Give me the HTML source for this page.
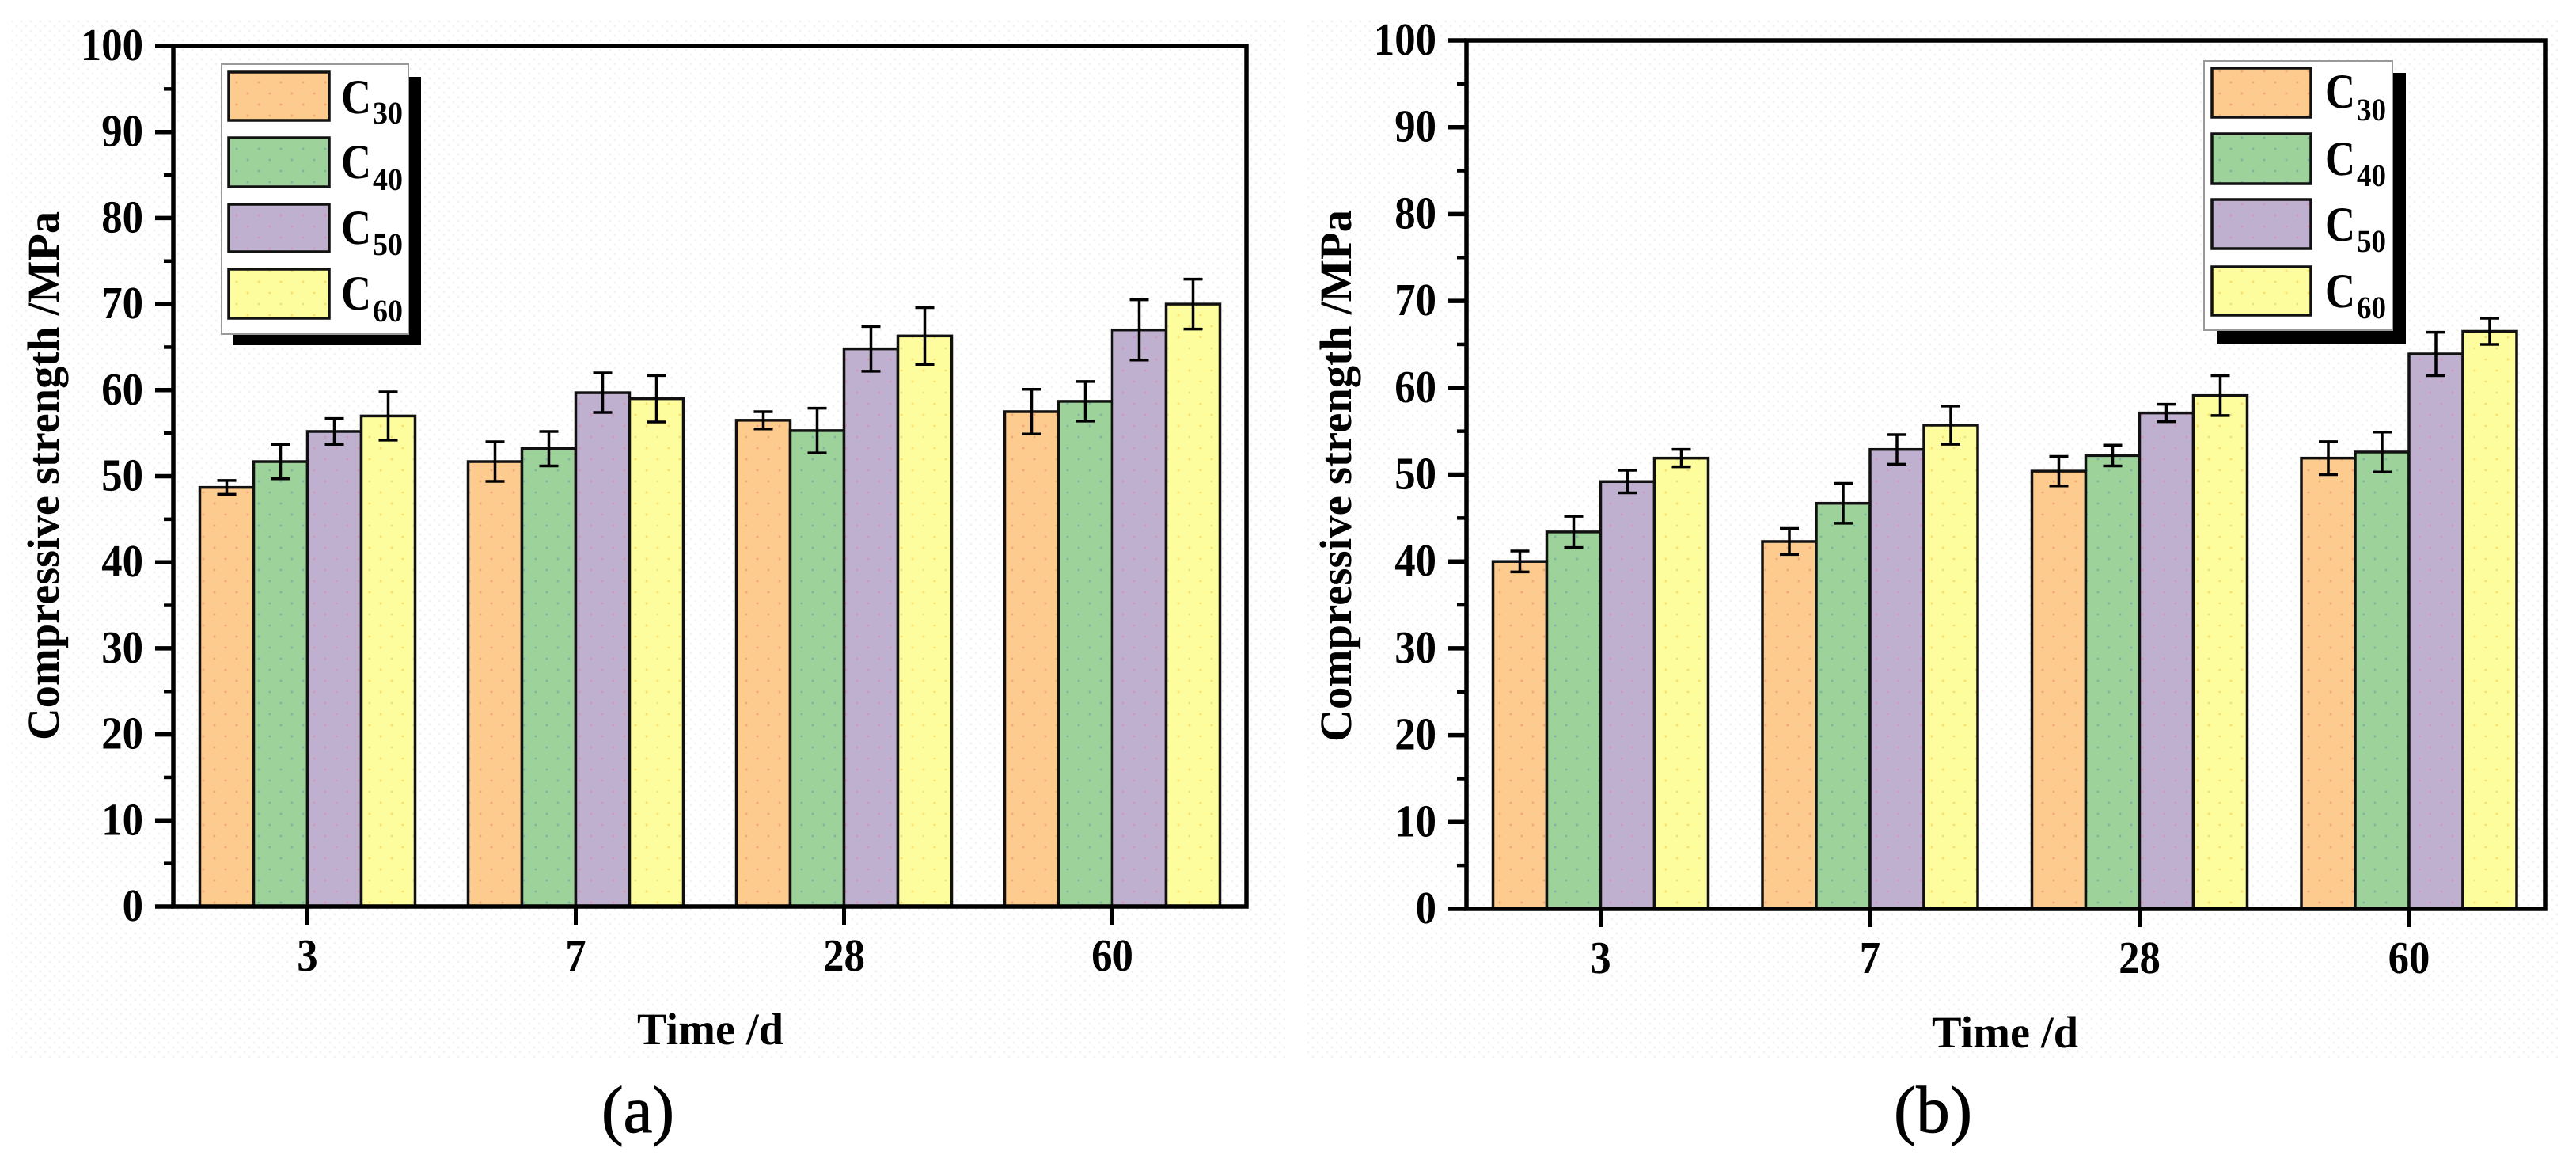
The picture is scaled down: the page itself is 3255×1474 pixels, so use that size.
<!DOCTYPE html>
<html lang="en">
<head>
<meta charset="utf-8">
<title>Compressive strength charts</title>
<style>
  html, body { margin: 0; padding: 0; background: #fff; }
  svg { display: block; font-family: "Liberation Serif", serif; }
  text { fill: #000; text-rendering: geometricPrecision; }
  .bold { font-weight: 700; }
  .title { font-size: 57px; font-weight: 700; }
  .lg-c { font-size: 62px; font-weight: 700; }
  .lg-sub { font-size: 40px; font-weight: 700; }
  .caption { font-size: 84px; stroke: #000; stroke-width: 1px; }
</style>
</head>
<body>
<svg id="figure" xmlns="http://www.w3.org/2000/svg" width="3255" height="1474" viewBox="0 0 3255 1474">
  <defs>
    <pattern id="bg-dots" width="12" height="12" patternUnits="userSpaceOnUse">
      <circle cx="3" cy="3" r="1.5" fill="#f0f4f1"/>
      <circle cx="9" cy="9" r="1.5" fill="#f5f3f0"/>
    </pattern>
    <pattern id="fill-c30" width="28" height="28" patternUnits="userSpaceOnUse">
      <rect width="28" height="28" fill="#fdcb8e"/>
      <circle cx="5" cy="6" r="1.5" fill="#f0a878"/>
      <circle cx="19" cy="20" r="1.5" fill="#f0a878"/>
    </pattern>
    <pattern id="fill-c40" width="28" height="28" patternUnits="userSpaceOnUse">
      <rect width="28" height="28" fill="#9dd39a"/>
      <circle cx="5" cy="6" r="1.5" fill="#80b4a0"/>
      <circle cx="19" cy="20" r="1.5" fill="#80b4a0"/>
    </pattern>
    <pattern id="fill-c50" width="28" height="28" patternUnits="userSpaceOnUse">
      <rect width="28" height="28" fill="#c0b0d0"/>
      <circle cx="5" cy="6" r="1.5" fill="#cf98bc"/>
      <circle cx="19" cy="20" r="1.5" fill="#cf98bc"/>
    </pattern>
    <pattern id="fill-c60" width="28" height="28" patternUnits="userSpaceOnUse">
      <rect width="28" height="28" fill="#fefd9e"/>
      <circle cx="5" cy="6" r="1.5" fill="#f4e070"/>
      <circle cx="19" cy="20" r="1.5" fill="#f4e070"/>
    </pattern>
  </defs>

  <rect width="3255" height="1474" fill="#fff"/>
  <rect x="15" y="22" width="1610" height="1315" fill="url(#bg-dots)"/>
  <rect x="1650" y="22" width="1583" height="1315" fill="url(#bg-dots)"/>

  <!-- Panel A -->
  <g id="panel-a"></g>
  <text class="title" transform="translate(74 935) rotate(-90)" textLength="668" lengthAdjust="spacingAndGlyphs">Compressive strength /MPa</text>
  <text class="title" x="805" y="1319" textLength="185" lengthAdjust="spacingAndGlyphs">Time /d</text>
  <text class="caption" x="760" y="1430" textLength="92" lengthAdjust="spacingAndGlyphs">(a)</text>

  <g>
    <rect x="295" y="97" width="237" height="339" fill="#000"/>
    <rect x="280" y="81" width="236" height="341" fill="#fff" stroke="#999" stroke-width="2"/>
    <rect x="289" y="91" width="127" height="61" fill="url(#fill-c30)" stroke="#111" stroke-width="3.5"/>
    <rect x="289" y="174" width="127" height="62" fill="url(#fill-c40)" stroke="#111" stroke-width="3.5"/>
    <rect x="289" y="258" width="127" height="60" fill="url(#fill-c50)" stroke="#111" stroke-width="3.5"/>
    <rect x="289" y="340" width="127" height="62" fill="url(#fill-c60)" stroke="#111" stroke-width="3.5"/>
    <text class="lg-c" x="431" y="143" textLength="38" lengthAdjust="spacingAndGlyphs">C</text>
    <text class="lg-sub" x="471" y="156" textLength="38" lengthAdjust="spacingAndGlyphs">30</text>
    <text class="lg-c" x="431" y="225" textLength="38" lengthAdjust="spacingAndGlyphs">C</text>
    <text class="lg-sub" x="471" y="240" textLength="38" lengthAdjust="spacingAndGlyphs">40</text>
    <text class="lg-c" x="431" y="308" textLength="38" lengthAdjust="spacingAndGlyphs">C</text>
    <text class="lg-sub" x="471" y="322" textLength="38" lengthAdjust="spacingAndGlyphs">50</text>
    <text class="lg-c" x="431" y="391" textLength="38" lengthAdjust="spacingAndGlyphs">C</text>
    <text class="lg-sub" x="471" y="406" textLength="38" lengthAdjust="spacingAndGlyphs">60</text>
  </g>

  <!-- Panel B -->
  <g id="panel-b"></g>
  <text class="title" transform="translate(1707 937) rotate(-90)" textLength="672" lengthAdjust="spacingAndGlyphs">Compressive strength /MPa</text>
  <text class="title" x="2441" y="1323" textLength="185" lengthAdjust="spacingAndGlyphs">Time /d</text>
  <text class="caption" x="2393" y="1430" textLength="99" lengthAdjust="spacingAndGlyphs">(b)</text>

  <g>
    <rect x="2801" y="92" width="239" height="343" fill="#000"/>
    <rect x="2785" y="77" width="238" height="340" fill="#fff" stroke="#999" stroke-width="2"/>
    <rect x="2795" y="86" width="125" height="62" fill="url(#fill-c30)" stroke="#111" stroke-width="3.5"/>
    <rect x="2795" y="169" width="125" height="63" fill="url(#fill-c40)" stroke="#111" stroke-width="3.5"/>
    <rect x="2795" y="252" width="125" height="62" fill="url(#fill-c50)" stroke="#111" stroke-width="3.5"/>
    <rect x="2795" y="337" width="125" height="61" fill="url(#fill-c60)" stroke="#111" stroke-width="3.5"/>
    <text class="lg-c" x="2938" y="136" textLength="38" lengthAdjust="spacingAndGlyphs">C</text>
    <text class="lg-sub" x="2978" y="152" textLength="37" lengthAdjust="spacingAndGlyphs">30</text>
    <text class="lg-c" x="2938" y="221" textLength="38" lengthAdjust="spacingAndGlyphs">C</text>
    <text class="lg-sub" x="2978" y="235" textLength="37" lengthAdjust="spacingAndGlyphs">40</text>
    <text class="lg-c" x="2938" y="304" textLength="38" lengthAdjust="spacingAndGlyphs">C</text>
    <text class="lg-sub" x="2978" y="318" textLength="37" lengthAdjust="spacingAndGlyphs">50</text>
    <text class="lg-c" x="2938" y="388" textLength="38" lengthAdjust="spacingAndGlyphs">C</text>
    <text class="lg-sub" x="2978" y="402" textLength="37" lengthAdjust="spacingAndGlyphs">60</text>
  </g>
</svg>

<script>
const categories = ['3', '7', '28', '60'];
const seriesKeys = ['c30', 'c40', 'c50', 'c60'];
const yTickLabels = [0, 10, 20, 30, 40, 50, 60, 70, 80, 90, 100];
const yMinorTickValues = [5, 15, 25, 35, 45, 55, 65, 75, 85, 95];

const panelAC30 = [48.7, 51.7, 56.5, 57.5];
const panelAC40 = [51.7, 53.2, 55.3, 58.7];
const panelAC50 = [55.2, 59.7, 64.8, 67.0];
const panelAC60 = [57.0, 59.0, 66.3, 70.0];
const panelAC30Err = [0.8, 2.3, 1.0, 2.6];
const panelAC40Err = [2.0, 2.0, 2.6, 2.3];
const panelAC50Err = [1.5, 2.3, 2.6, 3.5];
const panelAC60Err = [2.8, 2.7, 3.3, 2.9];

const panelBC30 = [40.0, 42.3, 50.4, 51.9];
const panelBC40 = [43.4, 46.7, 52.2, 52.6];
const panelBC50 = [49.2, 52.9, 57.1, 63.9];
const panelBC60 = [51.9, 55.7, 59.1, 66.5];
const panelBC30Err = [1.2, 1.5, 1.7, 1.9];
const panelBC40Err = [1.8, 2.3, 1.2, 2.3];
const panelBC50Err = [1.3, 1.7, 1.0, 2.5];
const panelBC60Err = [1.0, 2.2, 2.3, 1.5];

const panelAValues = [panelAC30, panelAC40, panelAC50, panelAC60];
const panelAErrors = [panelAC30Err, panelAC40Err, panelAC50Err, panelAC60Err];
const panelBValues = [panelBC30, panelBC40, panelBC50, panelBC60];
const panelBErrors = [panelBC30Err, panelBC40Err, panelBC50Err, panelBC60Err];

const SVG_NS = 'http://www.w3.org/2000/svg';

function make(tag, props, parent) {
  const node = document.createElementNS(SVG_NS, tag);
  Object.keys(props).forEach(function (k) { node.setAttribute(k, props[k]); });
  parent.appendChild(node);
  return node;
}

function drawPanel(layout, values, errors) {
  const root = document.getElementById(layout.id);
  const yOf = function (v) { return layout.yZero - v * (layout.yZero - layout.yTop) / 100; };
  const groupX = function (i) { return layout.xFirst + i * layout.xStep; };
  const barW = 68;
  const capHalf = 12;
  const digitW = 26.4;

  seriesKeys.forEach(function (key, s) {
    categories.forEach(function (cat, c) {
      const left = groupX(c) + (s - 2) * barW;
      const top = yOf(values[s][c]);
      const bar = make('rect', {
        x: left, y: top, width: barW, height: layout.yZero - top,
        fill: 'url(#fill-' + key + ')', stroke: '#111', 'stroke-width': 3.5
      }, root);
      
      
    });
  });

  seriesKeys.forEach(function (key, s) {
    categories.forEach(function (cat, c) {
      const mid = groupX(c) + (s - 2) * barW + barW / 2;
      const hi = yOf(values[s][c] + errors[s][c]);
      const lo = yOf(values[s][c] - errors[s][c]);
      const d = 'M' + mid + ' ' + hi + 'V' + lo +
        'M' + (mid - capHalf) + ' ' + hi + 'H' + (mid + capHalf) +
        'M' + (mid - capHalf) + ' ' + lo + 'H' + (mid + capHalf);
      const err = make('path', { d: d, fill: 'none', stroke: '#000', 'stroke-width': 3.5 }, root);
      
      
    });
  });

  const frame = make('rect', {
    x: layout.xLeft, y: layout.yTop,
    width: layout.xRight - layout.xLeft, height: layout.yZero - layout.yTop,
    fill: 'none', stroke: '#000', 'stroke-width': 5.5
  }, root);
  
  

  yTickLabels.forEach(function (v) {
    const tick = make('line', {
      x1: layout.xLeft - 23, x2: layout.xLeft, y1: yOf(v), y2: yOf(v),
      stroke: '#000', 'stroke-width': 5.5
    }, root);
    
    
    const text = String(v);
    const label = make('text', {
      x: layout.xLeft - 38 - text.length * digitW, y: yOf(v) + 18,
      'font-size': 58, 'font-weight': 700,
      textLength: text.length * digitW, lengthAdjust: 'spacingAndGlyphs'
    }, root);
    label.textContent = text;
    
    
  });

  yMinorTickValues.forEach(function (v) {
    const minor = make('line', {
      x1: layout.xLeft - 12, x2: layout.xLeft, y1: yOf(v), y2: yOf(v),
      stroke: '#000', 'stroke-width': 4.5
    }, root);
    
    
  });

  categories.forEach(function (cat, c) {
    const tick = make('line', {
      x1: groupX(c), x2: groupX(c), y1: layout.yZero, y2: layout.yZero + 23,
      stroke: '#000', 'stroke-width': 5
    }, root);
    
    
    const w = cat.length * digitW;
    const label = make('text', {
      x: groupX(c) - w / 2, y: layout.yZero + 81,
      'font-size': 58, 'font-weight': 700,
      textLength: w, lengthAdjust: 'spacingAndGlyphs'
    }, root);
    label.textContent = cat;
    
    
  });
}

drawPanel(
  { id: 'panel-a', xLeft: 219, xRight: 1575, yTop: 58, yZero: 1145, xFirst: 388.5, xStep: 339 },
  panelAValues, panelAErrors
);
drawPanel(
  { id: 'panel-b', xLeft: 1853, xRight: 3216, yTop: 51, yZero: 1148, xFirst: 2022.5, xStep: 340.5 },
  panelBValues, panelBErrors
);
</script>
</body>
</html>
